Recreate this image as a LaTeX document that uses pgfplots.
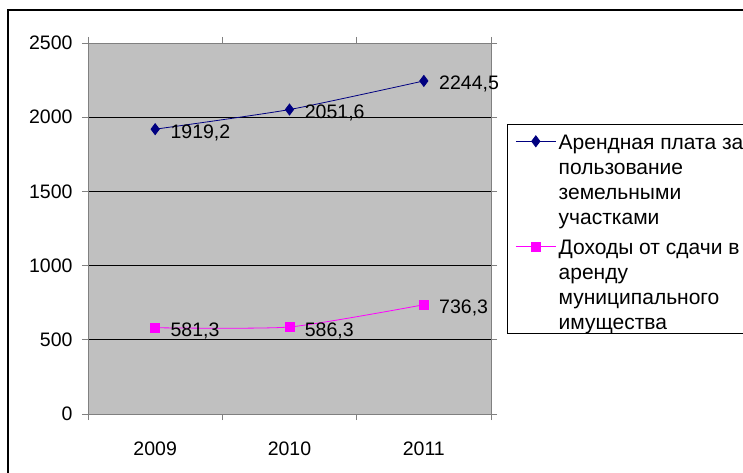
\documentclass[border=0pt]{standalone}
\usepackage{pgfplots}
\pgfplotsset{compat=1.18}
\usepackage{fontspec}
\setmainfont{Liberation Sans}
\definecolor{navy}{RGB}{0,0,128}
\definecolor{mag}{RGB}{255,0,255}
\definecolor{plotgray}{RGB}{192,192,192}
\definecolor{axgray}{RGB}{128,128,128}
\newcommand{\chfont}{\fontsize{19.5}{24}\selectfont}
\newcommand{\lgfont}{\fontsize{21}{25.5}\selectfont}
\begin{document}
\begin{tikzpicture}
\clip (0,0) rectangle (743pt,472pt);
\useasboundingbox (0,0) rectangle (743pt,472pt);
\draw[line width=1.2pt] (8pt,-10pt) rectangle (760pt,462pt);
\begin{axis}[
  at={(88pt,58pt)}, anchor=south west,
  scale only axis, width=403pt, height=371pt,
  xmin=-0.5, xmax=2.5, ymin=0, ymax=2500,
  ytick={0,500,...,2500},
  xtick={0,1,2}, xticklabels={2009,2010,2011},
  minor xtick={-0.5,0.5,1.5,2.5},
  major x tick style={draw=none},
  tick align=outside, major tick length=6pt, minor tick length=6pt,
  ymajorgrids, grid style={black, line width=0.7pt},
  axis background/.style={fill=plotgray},
  axis line style={axgray, line width=0.8pt},
  every tick/.style={axgray, line width=0.8pt},
  /pgf/number format/assume math mode=true,
  /pgf/number format/1000 sep={},
  tick label style={font=\chfont},
  yticklabel style={xshift=-6pt},
  xticklabel style={yshift=-18pt},
  legend style={at={(1.0397,0.782)}, anchor=north west, draw=black, fill=white,
    font=\lgfont, line width=0.8pt, inner xsep=8pt, inner ysep=1pt,
    row sep=0pt,
    nodes={anchor=base west, inner ysep=0pt, inner xsep=2.5pt, text height=22pt, text depth=3pt}},
  legend image code/.code={\draw[mark repeat=2, mark phase=2, yshift=8pt] plot coordinates {(0pt,0pt) (20pt,0pt) (40pt,0pt)};},
  nodes near coords style={font=\chfont, black, anchor=west, inner sep=0pt, xshift=15pt, yshift=-3.5pt,
    /pgf/number format/.cd, fixed, precision=1, fixed zerofill, use comma, 1000 sep={}},
]
\addplot[navy, line width=0.8pt, smooth, tension=0.35, mark=diamond*, mark size=5.5pt,
  mark options={solid}, nodes near coords, point meta=y]
  coordinates {(0,1919.2) (1,2051.6) (2,2244.5)};
\addlegendentry[text height=24pt]{Арендная плата за}
\addlegendimage{empty legend}\addlegendentry{пользование}
\addlegendimage{empty legend}\addlegendentry{земельными}
\addlegendimage{empty legend}\addlegendentry{участками}
\addplot[mag, line width=0.8pt, smooth, tension=0.35, mark=square*, mark size=4.5pt,
  mark options={solid}, nodes near coords, point meta=y]
  coordinates {(0,581.3) (1,586.3) (2,736.3)};
\addlegendentry[text height=27.5pt]{Доходы от сдачи в}
\addlegendimage{empty legend}\addlegendentry{аренду}
\addlegendimage{empty legend}\addlegendentry{муниципального}
\addlegendimage{empty legend}\addlegendentry{имущества}
\end{axis}
\end{tikzpicture}
\end{document}
